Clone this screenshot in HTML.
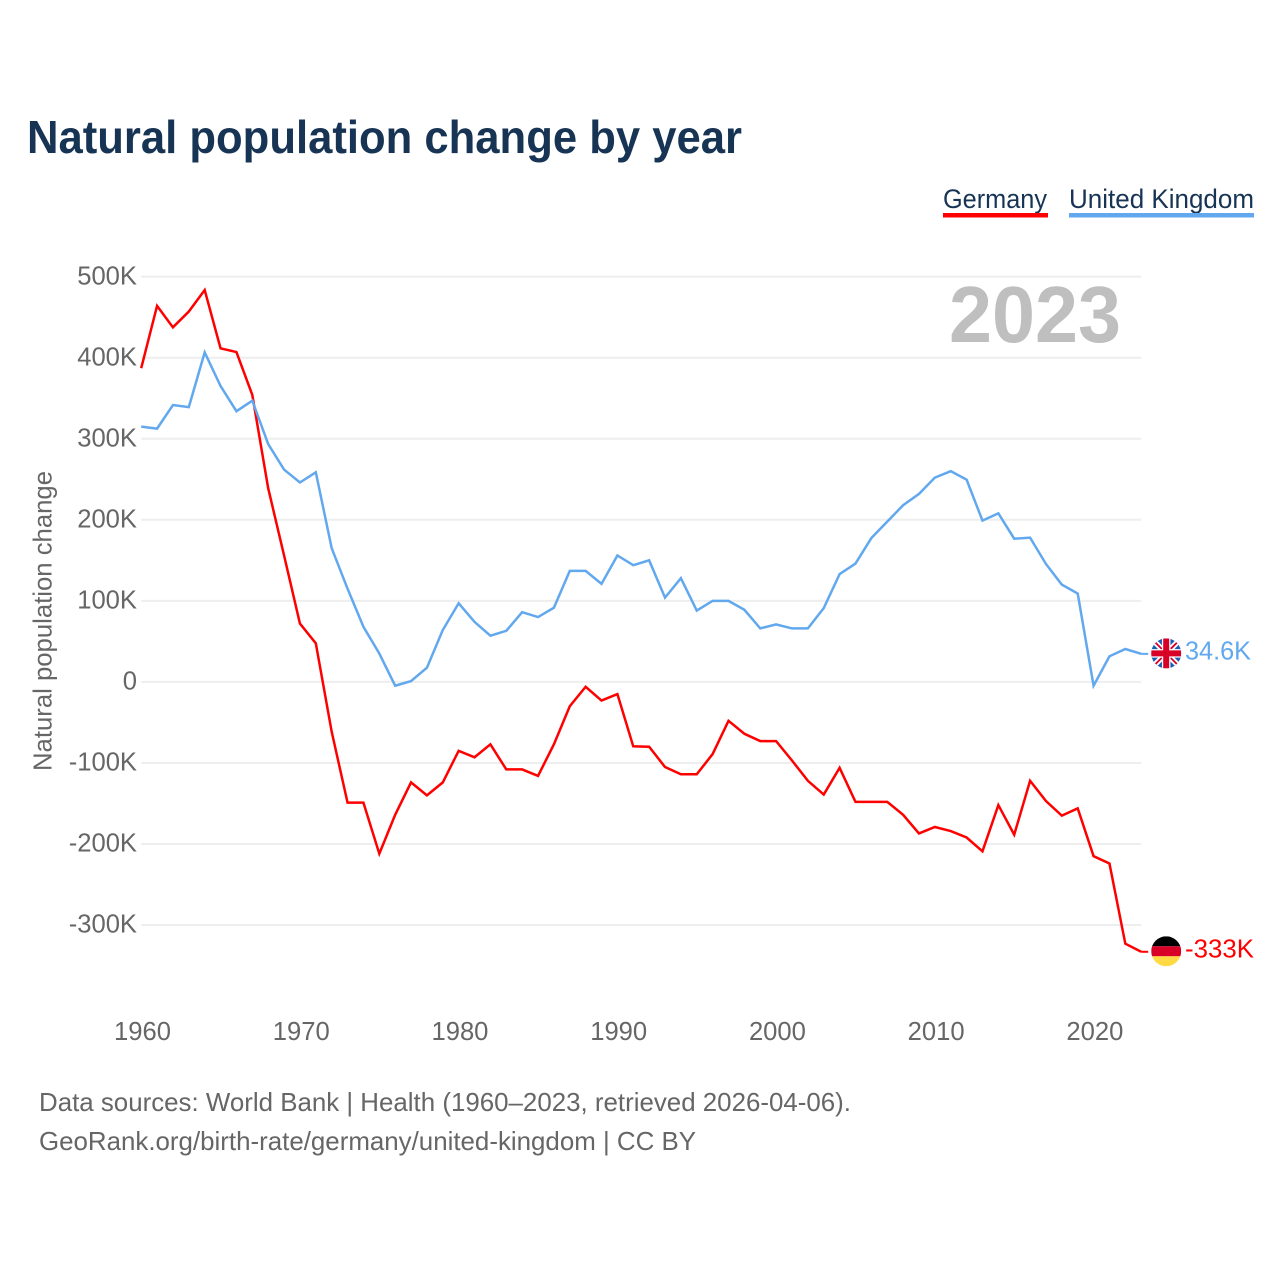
<!DOCTYPE html>
<html lang="en">
<head>
<meta charset="utf-8">
<title>Natural population change by year</title>
<style>
  html, body { margin: 0; padding: 0; background: #fff; }
  svg { display: block; font-family: "Liberation Sans", sans-serif; }
  .tick { font-size: 25.6px; fill: #666; }
</style>
</head>
<body>
<svg id="chart" xmlns="http://www.w3.org/2000/svg" width="1280" height="1280" viewBox="0 0 1280 1280">
  <defs>
    <clipPath id="clip-uk"><circle cx="15" cy="15" r="15"></circle></clipPath>
    <clipPath id="clip-de"><circle cx="15" cy="15" r="15"></circle></clipPath>
  </defs>
  <rect width="1280" height="1280" fill="#fff"></rect>
  <text x="27" y="153" font-size="46" font-weight="700" fill="#173454" textLength="715" lengthAdjust="spacingAndGlyphs">Natural population change by year</text>

  <g>
    <text x="943" y="208" font-size="27" fill="#173454" textLength="104" lengthAdjust="spacingAndGlyphs">Germany</text>
    <rect x="943" y="213" width="105" height="4.5" fill="#ff0000"></rect>
  </g>
  <g>
    <text x="1069" y="208" font-size="27" fill="#173454" textLength="185" lengthAdjust="spacingAndGlyphs">United Kingdom</text>
    <rect x="1069" y="213" width="185" height="4.5" fill="#62a8ee"></rect>
  </g>

  <g id="grid"></g>
  <g id="y-ticks"></g>
  <g id="x-ticks"></g>

  <text x="1121" y="342" text-anchor="end" font-size="80" font-weight="700" fill="#bfbfbf" textLength="172" lengthAdjust="spacingAndGlyphs">2023</text>
  <text transform="translate(51.5 771) rotate(-90)" font-size="25.6" fill="#666" textLength="300" lengthAdjust="spacingAndGlyphs">Natural population change</text>

  <g id="series"></g>

  <g id="flag-uk">
    <g clip-path="url(#clip-uk)">
      <rect width="30" height="30" fill="#1a5db4"></rect>
      <path d="M0 0L30 30M30 0L0 30" stroke="#fff" stroke-width="5.5"></path>
      <path d="M0 0L30 30M30 0L0 30" stroke="#d80027" stroke-width="1.8"></path>
      <path d="M15 0V30M0 15H30" stroke="#fff" stroke-width="8.5"></path>
      <path d="M15 0V30M0 15H30" stroke="#d80027" stroke-width="6"></path>
    </g>
  </g>
  <g id="flag-de">
    <g clip-path="url(#clip-de)">
      <rect width="30" height="10" y="0" fill="#000"></rect>
      <rect width="30" height="10" y="10" fill="#d80027"></rect>
      <rect width="30" height="10" y="20" fill="#ffda44"></rect>
    </g>
  </g>
  <text id="end-label-uk" x="1185" font-size="26" fill="#62a8ee" textLength="66" lengthAdjust="spacingAndGlyphs"></text>
  <text id="end-label-de" x="1185" font-size="26" fill="#ff0000" textLength="69" lengthAdjust="spacingAndGlyphs"></text>

  <text x="39" y="1111" font-size="26" fill="#666" textLength="812" lengthAdjust="spacingAndGlyphs">Data sources: World Bank | Health (1960–2023, retrieved 2026-04-06).</text>
  <text x="39" y="1150" font-size="26" fill="#666" textLength="657" lengthAdjust="spacingAndGlyphs">GeoRank.org/birth-rate/germany/united-kingdom | CC BY</text>
</svg>

<script>
const startYear = 1960;
const xTickYears = [1960, 1970, 1980, 1990, 2000, 2010, 2020];
const yTickValues = [500, 400, 300, 200, 100, 0, -100, -200, -300];
const yTickLabels = ["500K", "400K", "300K", "200K", "100K", "0", "-100K", "-200K", "-300K"];
const germanyValues = [
  387, 464, 437.5, 457, 483.5, 411.6, 407, 354, 239, 156,
  72, 47.6, -61.4, -149, -149, -212, -164, -124, -140, -124,
  -85, -93, -77, -108, -108, -116, -77, -30, -6, -23,
  -15, -79.5, -80, -105, -114, -114, -89, -48, -64, -73,
  -73, -97, -122, -139, -106, -148, -148, -148, -164, -187,
  -179, -184, -192, -209, -152, -188.5, -122, -147, -165, -156,
  -215, -224, -323, -333
];
const ukValues = [
  315, 312.5, 341.6, 339, 406.6, 365, 334, 347, 293.5, 262,
  246, 258.6, 165, 115, 68, 35, -4.7, 1, 17.5, 64,
  97, 74, 57, 63, 86, 80, 91.5, 137, 137, 121,
  156, 144, 150, 104, 128, 88, 100, 100, 89, 66,
  71, 66, 66, 91, 133, 146, 177.5, 197.7, 218, 232,
  252, 260, 249.5, 199, 208, 176.7, 178, 145.5, 120, 109,
  -4.7, 31.6, 40.6, 34.6
];
const germanyEndLabel = "-333K";
const ukEndLabel = "34.6K";

const NS = "http://www.w3.org/2000/svg";
function xScale(year) { return 141.2 + (year - 1960) * 15.873; }
function yScale(value) { return 681.9 - value * 0.8105; }

function make(tag, parent, attrs) {
  const el = document.createElementNS(NS, tag);
  for (const k in attrs) el.setAttribute(k, attrs[k]);
  parent.appendChild(el);
  return el;
}

const gridGroup = document.getElementById("grid");
const yTickGroup = document.getElementById("y-ticks");
const xTickGroup = document.getElementById("x-ticks");
const seriesGroup = document.getElementById("series");
const lastYear = startYear + germanyValues.length - 1;

yTickValues.forEach(function (v, i) {
  const line = make("line", gridGroup, { x1: xScale(startYear), x2: xScale(lastYear), y1: yScale(v), y2: yScale(v), stroke: "#eeeeee", "stroke-width": 2 });
  
  
  const label = make("text", yTickGroup, { x: 137, y: yScale(v) + 7.6, "text-anchor": "end", class: "tick" });
  
  
  label.textContent = yTickLabels[i];
});

xTickYears.forEach(function (year) {
  const label = make("text", xTickGroup, { x: xScale(year) + 1.3, y: 1040, "text-anchor": "middle", class: "tick" });
  
  
  label.textContent = String(year);
});

function pointsFor(values) {
  return values.map(function (v, i) { return xScale(startYear + i) + "," + yScale(v); }).join(" ");
}

const germanyLine = make("polyline", seriesGroup, { points: pointsFor(germanyValues), fill: "none", stroke: "#ff0000", "stroke-width": 2.5, "stroke-linejoin": "miter" });



const ukLine = make("polyline", seriesGroup, { points: pointsFor(ukValues), fill: "none", stroke: "#62a8ee", "stroke-width": 2.5, "stroke-linejoin": "miter" });



const germanyEnd = yScale(germanyValues[germanyValues.length - 1]);
const ukEnd = yScale(ukValues[ukValues.length - 1]);

const germanyConnector = make("line", seriesGroup, { x1: xScale(lastYear), x2: xScale(lastYear) + 7, y1: germanyEnd, y2: germanyEnd, stroke: "#ff0000", "stroke-width": 2 });



const ukConnector = make("line", seriesGroup, { x1: xScale(lastYear), x2: xScale(lastYear) + 7, y1: ukEnd, y2: ukEnd, stroke: "#62a8ee", "stroke-width": 2 });



document.getElementById("flag-uk").setAttribute("transform", "translate(" + (xScale(lastYear) + 10) + " " + (ukEnd - 15.5) + ")");
document.getElementById("flag-de").setAttribute("transform", "translate(" + (xScale(lastYear) + 10) + " " + (germanyEnd - 15.5) + ")");

const ukLabel = document.getElementById("end-label-uk");
ukLabel.setAttribute("y", ukEnd + 5.6);
ukLabel.textContent = ukEndLabel;

const deLabel = document.getElementById("end-label-de");
deLabel.setAttribute("y", germanyEnd + 5.6);
deLabel.textContent = germanyEndLabel;
</script>
</body>
</html>
